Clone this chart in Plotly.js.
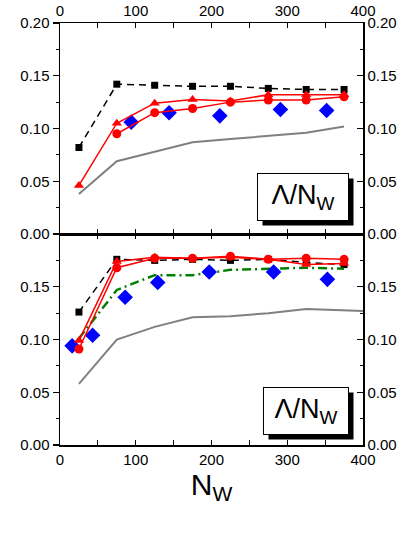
<!DOCTYPE html>
<html>
<head>
<meta charset="utf-8">
<script src="https://cdn.plot.ly/plotly-3.0.1.min.js"></script>
<style>
  body { margin: 0; background: #fff; }
  #chart { width: 415px; height: 537px; }
</style>
</head>
<body>
<div id="chart"></div>
<script>
// N_W values shared by most series
const nW = [25, 75, 125, 175, 225, 275, 325, 375];

// top panel
const topSquares = [0.082, 0.142, 0.141, 0.140, 0.140, 0.138, 0.137, 0.137];
const topTriangles = [0.046, 0.105, 0.124, 0.1275, 0.126, 0.132, 0.132, 0.132];
const topCirclesN = [75, 125, 175, 225, 275, 325, 375];
const topCircles = [0.095, 0.115, 0.119, 0.125, 0.127, 0.127, 0.130];
const topDiamondN = [94, 144, 211, 291, 352];
const topDiamonds = [0.106, 0.115, 0.112, 0.118, 0.117];
const topGray = [0.038, 0.069, 0.078, 0.087, 0.090, 0.093, 0.096, 0.102];

// bottom panel
const botSquares = [0.126, 0.176, 0.175, 0.176, 0.175, 0.176, 0.173, 0.171];
const botTriangles = [0.099, 0.174, 0.178, 0.177, 0.178, 0.176, 0.171, 0.172];
const botCircles = [0.091, 0.168, 0.177, 0.177, 0.179, 0.176, 0.177, 0.176];
const botGreen = [0.101, 0.147, 0.161, 0.161, 0.166, 0.167, 0.168, 0.167];
const botDiamondN = [16, 43, 86, 129, 197, 282, 353];
const botDiamonds = [0.094, 0.104, 0.140, 0.154, 0.164, 0.164, 0.157];
const botGrayN = [25, 75, 125, 175, 225, 275, 325, 400];
const botGray = [0.058, 0.100, 0.112, 0.121, 0.122, 0.125, 0.129, 0.127];

const xTicks = [0, 100, 200, 300, 400];
const yTicksTop = [0, 0.05, 0.10, 0.15, 0.20];
const yTextTop = ['0.00', '0.05', '0.10', '0.15', '0.20'];
const yTicksBot = [0, 0.05, 0.10, 0.15];
const yTextBot = ['0.00', '0.05', '0.10', '0.15'];
const boxLabel = 'Λ/N<sub>W</sub>';

const RED = '#ff0000';
const font = 'Liberation Sans, Arial, sans-serif';

function gray(x, y, xa, ya) {
  return {x: x, y: y, xaxis: xa, yaxis: ya, mode: 'lines',
    line: {color: '#808080', width: 2}};
}
function squares(x, y, xa, ya) {
  return {x: x, y: y, xaxis: xa, yaxis: ya, mode: 'lines+markers',
    line: {color: '#000', width: 1.5, dash: '7px,5px'},
    marker: {symbol: 'square', size: 7, color: '#000'}};
}
function diamonds(x, y, xa, ya) {
  return {x: x, y: y, xaxis: xa, yaxis: ya, mode: 'markers',
    marker: {symbol: 'diamond', size: 12, color: '#0000ff'}};
}
function redLine(x, y, sym, xa, ya) {
  return {x: x, y: y, xaxis: xa, yaxis: ya, mode: 'lines+markers',
    line: {color: RED, width: 1.5},
    marker: {symbol: sym, size: 9, color: RED}};
}
// empty trace so the right-hand axes get drawn
function holder(xa, ya) {
  return {x: [null], y: [null], xaxis: xa, yaxis: ya, mode: 'markers'};
}

let traces = [
  gray(nW, topGray, 'x', 'y'),
  squares(nW, topSquares, 'x', 'y'),
  diamonds(topDiamondN, topDiamonds, 'x', 'y'),
  redLine(nW, topTriangles, 'triangle-up', 'x', 'y'),
  redLine(topCirclesN, topCircles, 'circle', 'x', 'y'),

  gray(botGrayN, botGray, 'x2', 'y2'),
  squares(nW, botSquares, 'x2', 'y2'),
  {x: nW, y: botGreen, xaxis: 'x2', yaxis: 'y2', mode: 'lines',
    line: {color: '#008000', width: 2.5, dash: '9px,4px,2px,4px'}},
  diamonds(botDiamondN, botDiamonds, 'x2', 'y2'),
  redLine(nW, botTriangles, 'triangle-up', 'x2', 'y2'),
  redLine(nW, botCircles, 'circle', 'x2', 'y2'),

  holder('x', 'y3'),
  holder('x2', 'y4')
];

const tickFont = {family: font, size: 15, color: '#000'};

function xAxis(side, anchor) {
  return {
    range: [0, 400], side: side, anchor: anchor,
    tickvals: xTicks,
    ticks: 'inside', ticklen: 5, tickwidth: 1.2, tickcolor: '#000',
    minor: {dtick: 50, ticks: 'inside', ticklen: 4, tickwidth: 1.2, tickcolor: '#000'},
    showline: true, linecolor: '#000', linewidth: 1.5, mirror: 'allticks',
    showgrid: false, zeroline: false, tickfont: tickFont, fixedrange: true
  };
}
function yAxis(domain, anchor, vals, text) {
  return {
    range: [0, 0.2], domain: domain, anchor: anchor,
    tickvals: vals, ticktext: text,
    ticks: 'outside', ticklen: 6, tickwidth: 1.2, tickcolor: '#000',
    minor: {dtick: 0.025, ticks: 'outside', ticklen: 3, tickwidth: 1.2, tickcolor: '#000'},
    showline: true, linecolor: '#000', linewidth: 1.5,
    showgrid: false, zeroline: false, tickfont: tickFont, fixedrange: true
  };
}
function yRight(over, anchor, vals, text) {
  return {
    range: [0, 0.2], overlaying: over, side: 'right', anchor: anchor,
    tickvals: vals, ticktext: text,
    ticks: 'inside', ticklen: 6, tickwidth: 1.2, tickcolor: '#000',
    minor: {dtick: 0.025, ticks: 'inside', ticklen: 3, tickwidth: 1.2, tickcolor: '#000'},
    showline: true, linecolor: '#000', linewidth: 1.5,
    showgrid: false, zeroline: false, tickfont: tickFont, fixedrange: true
  };
}

// label box + its drop shadow, one pair per panel
function labelBox(xa, ya, x, y, w) {
  let base = {xref: xa, yref: ya, x: x, y: y, showarrow: false,
    width: w, height: 46, borderpad: 0};
  return [
    Object.assign({}, base, {text: ' ', bgcolor: '#000', xshift: 5, yshift: -5}),
    Object.assign({}, base, {text: boxLabel, bgcolor: '#fff',
      bordercolor: '#000', borderwidth: 1,
      font: {family: font, size: 27, color: '#000'}})
  ];
}

let layout = {
  width: 415, height: 537,
  margin: {l: 60, r: 52, t: 23, b: 92},
  paper_bgcolor: '#fff', plot_bgcolor: '#fff',
  showlegend: false,
  font: {family: font, color: '#000'},
  xaxis: xAxis('top', 'y'),
  yaxis: yAxis([0.5, 1], 'x', yTicksTop, yTextTop),
  yaxis3: yRight('y', 'x', yTicksTop, yTextTop),
  xaxis2: Object.assign(xAxis('bottom', 'y2'), {
    title: {text: 'N<sub>W</sub>', font: {family: font, size: 30, color: '#000'}, standoff: 6}
  }),
  yaxis2: yAxis([0, 0.5], 'x2', yTicksBot, yTextBot),
  yaxis4: yRight('y2', 'x2', yTicksBot, yTextBot),
  annotations: labelBox('x', 'y', 321, 0.035, 90).concat(labelBox('x2', 'y2', 325, 0.032, 84))
};

Plotly.newPlot('chart', traces, layout, {displayModeBar: false, staticPlot: true});
</script>
</body>
</html>
